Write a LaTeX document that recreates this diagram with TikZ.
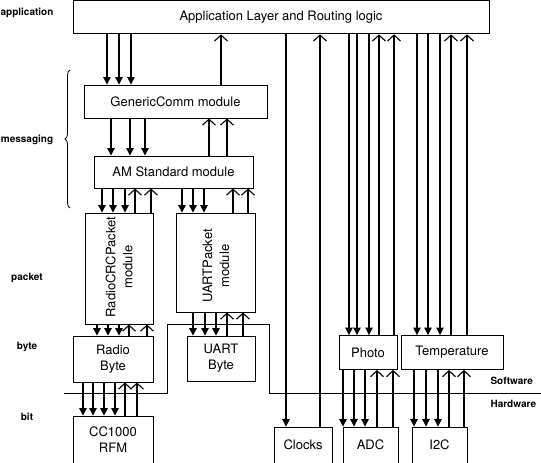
\documentclass[tikz,border=0pt]{standalone}
\usepackage{fontspec}
\setmainfont{TeX Gyre Heros}
\usetikzlibrary{arrows.meta, decorations.pathreplacing}

\begin{document}
\begin{tikzpicture}[x=1pt, y=-1pt,
    box/.style={draw, line width=0.9pt, inner sep=0pt, align=center, font=\fontsize{13}{16}\selectfont},
    boxtext/.style={align=center, inner sep=0pt, font=\fontsize{13}{17}\selectfont},
    dn/.style={line width=1.2pt, -{Triangle[length=7.5pt,width=7.5pt]}},
    up/.style={line width=1.1pt, -{Straight Barb[length=6pt,width=13pt]}},
    lvl/.style={font=\bfseries\fontsize{10}{12}\selectfont}]

    \useasboundingbox (0,0) rectangle (541,463);

    % Layer names
    \node[lvl] (lapp) at (27,13) {application};
    \node[lvl] (lmsg) at (27,140) {messaging};
    \node[lvl] (lpkt) at (27,278) {packet};
    \node[lvl] (lbyte) at (27,347) {byte};
    \node[lvl] (lbit) at (27,417) {bit};
    \draw[line width=0.8pt, decorate, decoration={brace, amplitude=5pt}] (70,208) -- (70,70);

    % Software modules
    \node[box, minimum width=416pt, minimum height=33pt] (app) at (281,17.4) {Application Layer and Routing logic};
    \node[box, minimum width=183pt, minimum height=33pt] (gc) at (175.5,101.5) {GenericComm module};
    \node[box, minimum width=159pt, minimum height=32pt] (am) at (173.5,172) {AM Standard module};
    \node[box, minimum width=68pt, minimum height=111pt] (rcrc) at (119,268.5) {};
    \node[boxtext, rotate=90] (rcrctext) at (119,267) {RadioCRCPacket\\module};
    \node[box, minimum width=79pt, minimum height=99pt] (upkt) at (215.5,262.5) {};
    \node[boxtext, rotate=90] (upkttext) at (216,266) {UARTPacket\\module};
    \node[box, minimum width=80pt, minimum height=46pt] (rbyte) at (113,359) {Radio\\Byte};
    \node[box, minimum width=68pt, minimum height=45pt] (ubyte) at (221,358.5) {UART\\Byte};
    \node[box, minimum width=58pt, minimum height=34pt] (photo) at (368,352.5) {Photo};
    \node[box, minimum width=102pt, minimum height=34pt] (temp) at (452,352.5) {Temperature};

    % Hardware
    \node[box, minimum width=80pt, minimum height=47pt] (cc) at (113,439.5) {CC1000\\RFM};
    \node[box, minimum width=58pt, minimum height=36pt] (clocks) at (303,445) {Clocks};
    \node[box, minimum width=55pt, minimum height=36pt] (adc) at (370.5,445) {ADC};
    \node[box, minimum width=55pt, minimum height=36pt] (i2c) at (439.5,445) {I2C};

    % Software / Hardware boundary
    \draw[line width=0.9pt] (64,393) -- (167,393) -- (167,324) -- (269,324) -- (269,393) -- (541,393);
    \node[lvl, anchor=west] (lsw) at (487,381) {Software};
    \node[lvl, anchor=west] (lhw) at (487,404) {Hardware};

    % Application <-> GenericComm
    \foreach \x in {107,119,131} \draw[dn] (app.south -| \x,0) -- (gc.north -| \x,0);
    \draw[up] (gc.north -| 221,0) -- (app.south -| 221,0);

    % GenericComm <-> AM
    \foreach \x in {111,130,145} \draw[dn] (gc.south -| \x,0) -- (am.north -| \x,0);
    \foreach \x in {209,227} \draw[up] (am.north -| \x,0) -- (gc.south -| \x,0);

    % AM <-> packet modules
    \foreach \x in {102,113,125} \draw[dn] (am.south -| \x,0) -- (rcrc.north -| \x,0);
    \foreach \x in {135,151} \draw[up] (rcrc.north -| \x,0) -- (am.south -| \x,0);
    \foreach \x in {182,193,204} \draw[dn] (am.south -| \x,0) -- (upkt.north -| \x,0);
    \foreach \x in {233,248} \draw[up] (upkt.north -| \x,0) -- (am.south -| \x,0);

    % packet <-> byte
    \foreach \x in {97,108,119} \draw[dn] (rcrc.south -| \x,0) -- (rbyte.north -| \x,0);
    \foreach \x in {129,147} \draw[up] (rbyte.north -| \x,0) -- (rcrc.south -| \x,0);
    \foreach \x in {193,205,216} \draw[dn] (upkt.south -| \x,0) -- (ubyte.north -| \x,0);
    \foreach \x in {227,243} \draw[up] (ubyte.north -| \x,0) -- (upkt.south -| \x,0);

    % byte <-> bit
    \foreach \x in {83,93,104,115} \draw[dn] (rbyte.south -| \x,0) -- (cc.north -| \x,0);
    \foreach \x in {125,137} \draw[up] (cc.north -| \x,0) -- (rbyte.south -| \x,0);

    % Application <-> sensors and clocks
    \draw[dn] (app.south -| 286,0) -- (clocks.north -| 286,0);
    \draw[up] (clocks.north -| 320,0) -- (app.south -| 320,0);
    \foreach \x in {349,357,369} \draw[dn] (app.south -| \x,0) -- (photo.north -| \x,0);
    \foreach \x in {379,394} \draw[up] (photo.north -| \x,0) -- (app.south -| \x,0);
    \foreach \x in {417,428,440} \draw[dn] (app.south -| \x,0) -- (temp.north -| \x,0);
    \foreach \x in {451,467} \draw[up] (temp.north -| \x,0) -- (app.south -| \x,0);

    % Sensors <-> hardware
    \foreach \x in {343,354,365} \draw[dn] (photo.south -| \x,0) -- (adc.north -| \x,0);
    \foreach \x in {377,393} \draw[up] (adc.north -| \x,0) -- (photo.south -| \x,0);
    \foreach \x in {414,426,438} \draw[dn] (temp.south -| \x,0) -- (i2c.north -| \x,0);
    \foreach \x in {449,464} \draw[up] (i2c.north -| \x,0) -- (temp.south -| \x,0);

\end{tikzpicture}
\end{document}
